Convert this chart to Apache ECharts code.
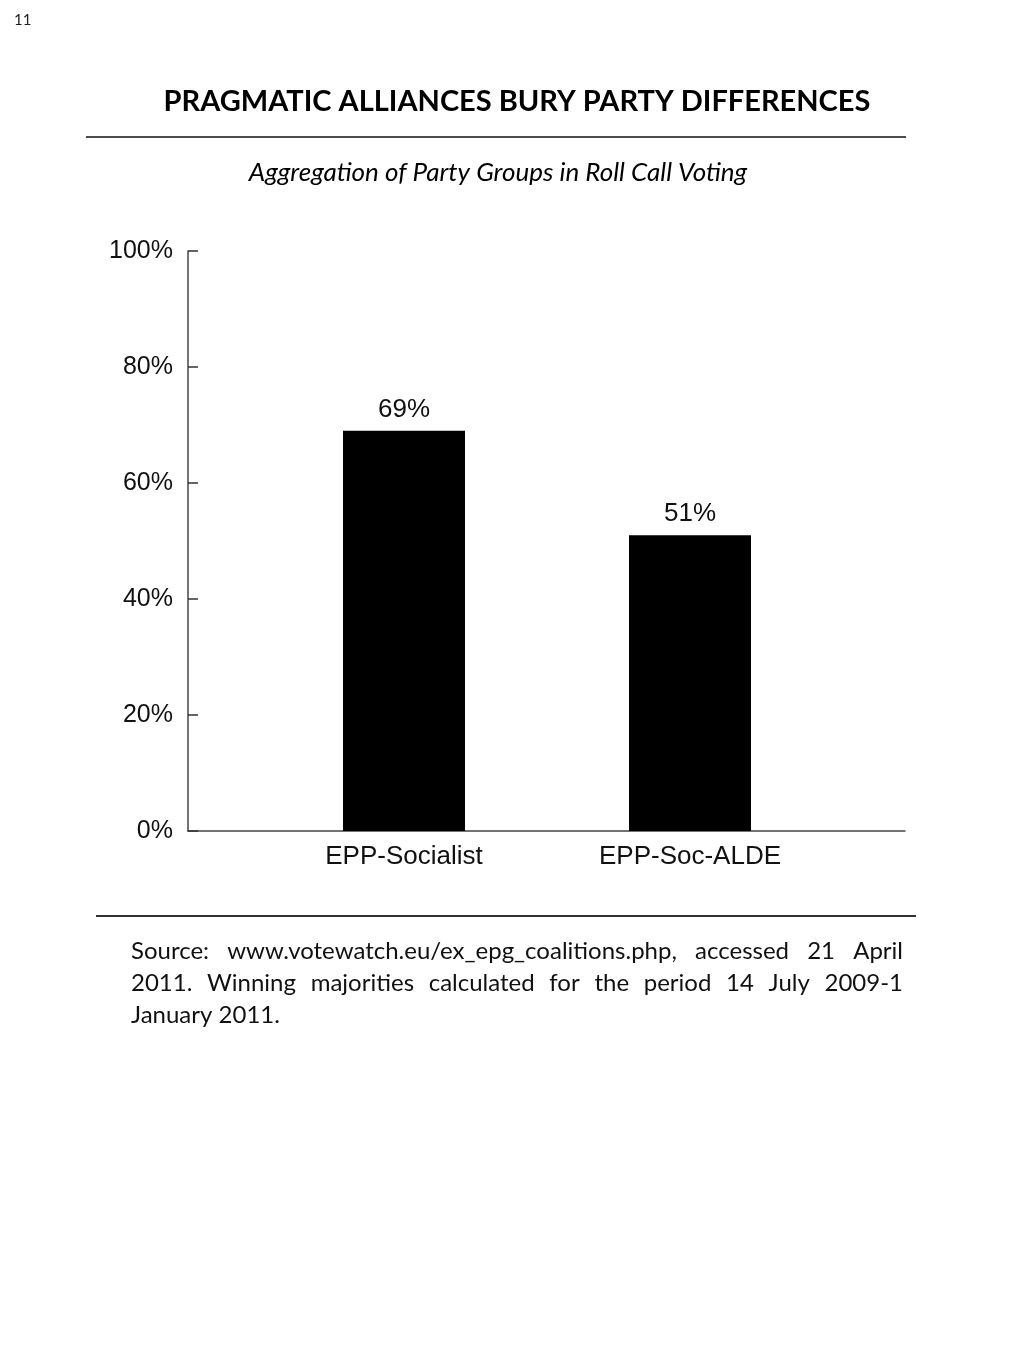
<!DOCTYPE html>
<html><head><meta charset="utf-8">
<script src="https://cdn.jsdelivr.net/npm/echarts@6/dist/echarts.min.js"></script>
<style>html,body{margin:0;padding:0;background:#fff}#c{width:1024px;height:1365px}</style>
</head><body><div id="c"></div>
<script>
const categories = ['EPP-Socialist', 'EPP-Soc-ALDE'];
const values = [69, 51];
const yTicks = [0, 20, 40, 60, 80, 100];
const pageNumber = '11';
const titleText = 'PRAGMATIC ALLIANCES BURY PARTY DIFFERENCES';
const subtitleText = 'Aggregation of Party Groups in Roll Call Voting';
const sourceLines = [
  'Source: www.votewatch.eu/ex_epg_coalitions.php, accessed 21 April',
  '2011. Winning majorities calculated for the period 14 July 2009-1',
  'January 2011.'
];

const chart = echarts.init(document.getElementById('c'), null, {renderer: 'canvas'});
const ctx = document.createElement('canvas').getContext('2d');
function measure(t, font) { ctx.font = font; return ctx.measureText(t).width; }

const bodyFamily = 'Lato';
const srcFont = '24px ' + bodyFamily;
const srcLeft = 131, srcRight = 903, srcY = [951, 983, 1015];
const graphics = [];
sourceLines.forEach((line, i) => {
  const words = line.split(' ');
  if (i === sourceLines.length - 1) {
    graphics.push({type: 'text', x: srcLeft, y: srcY[i],
      style: {text: line, font: srcFont, fill: '#111', textAlign: 'left', textVerticalAlign: 'middle'}});
    return;
  }
  const widths = words.map(w => measure(w, srcFont));
  const total = widths.reduce((a, b) => a + b, 0);
  const gap = (srcRight - srcLeft - total) / (words.length - 1);
  let x = srcLeft;
  words.forEach((w, k) => {
    graphics.push({type: 'text', x: x, y: srcY[i],
      style: {text: w, font: srcFont, fill: '#111', textAlign: 'left', textVerticalAlign: 'middle'}});
    x += widths[k] + gap;
  });
});

graphics.push(
  {type: 'text', x: 14, y: 20, style: {text: pageNumber, font: '15px ' + bodyFamily, fill: '#222', textVerticalAlign: 'middle'}},
  {type: 'text', x: 517, y: 102, style: {text: titleText, font: 'bold 29px ' + bodyFamily, fill: '#000', textAlign: 'center', textVerticalAlign: 'middle'}},
  {type: 'line', shape: {x1: 86, y1: 137, x2: 906, y2: 137}, style: {stroke: '#111', lineWidth: 1.5}},
  {type: 'text', x: 498, y: 173, style: {text: subtitleText, font: 'italic 26px ' + bodyFamily, fill: '#000', textAlign: 'center', textVerticalAlign: 'middle'}},
  {type: 'line', shape: {x1: 96, y1: 916, x2: 916, y2: 916}, style: {stroke: '#333', lineWidth: 2}}
);

const axisFont = 'Liberation Sans';
chart.setOption({
  animation: false,
  backgroundColor: '#fff',
  grid: [
    {left: 188, top: 251, width: 717, height: 580},
    {left: 261, top: 251, width: 572, height: 580}
  ],
  xAxis: [
    {gridIndex: 0, type: 'value', min: 0, max: 1, axisLine: {show: true, lineStyle: {color: '#444', width: 1.5}},
     axisTick: {show: false}, axisLabel: {show: false}, splitLine: {show: false}},
    {gridIndex: 1, type: 'category', data: categories, axisLine: {show: false}, axisTick: {show: false},
     axisLabel: {margin: 13, fontFamily: axisFont, fontSize: 26, color: '#111'}}
  ],
  yAxis: [
    {gridIndex: 0, type: 'value', min: yTicks[0], max: yTicks[yTicks.length - 1], interval: yTicks[1] - yTicks[0],
     axisLine: {show: true, lineStyle: {color: '#444', width: 1.5}},
     axisTick: {show: true, inside: true, length: 10, lineStyle: {color: '#333', width: 1.5}},
     axisLabel: {formatter: '{value}%', margin: 15, fontFamily: axisFont, fontSize: 25, color: '#111'},
     splitLine: {show: false}},
    {gridIndex: 1, type: 'value', min: yTicks[0], max: yTicks[yTicks.length - 1], show: false}
  ],
  series: [{
    type: 'bar', xAxisIndex: 1, yAxisIndex: 1, data: values, barWidth: 122,
    itemStyle: {color: '#000'},
    label: {show: true, position: 'top', distance: 8, formatter: '{c}%', fontFamily: axisFont, fontSize: 26, color: '#111'}
  }],
  graphic: graphics
});
</script></body></html>
